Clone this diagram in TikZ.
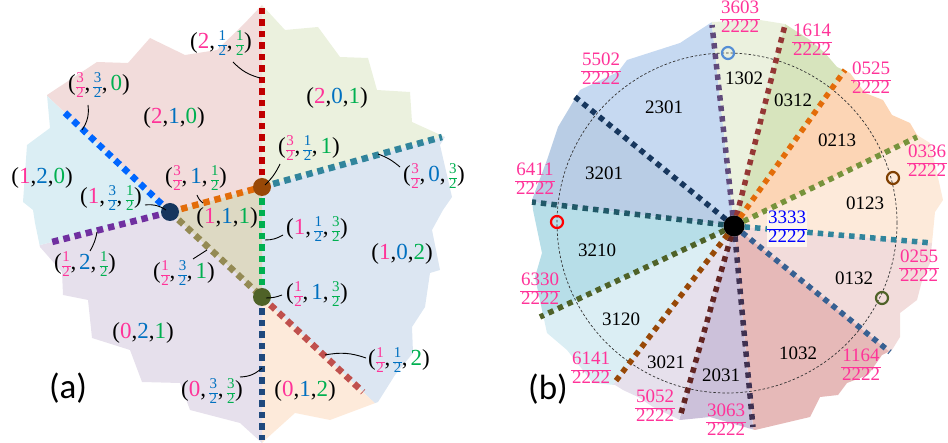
\documentclass[tikz,border=0pt]{standalone}
\usepackage{fontspec}
\setmainfont{Liberation Serif}
\setsansfont{Carlito}
\usetikzlibrary{calc}
\definecolor{pk}{HTML}{FF3399}
\definecolor{bu}{HTML}{0070C0}
\definecolor{gn}{HTML}{00B050}
% left line colours
\definecolor{lred}{HTML}{C00000}
\definecolor{lteal}{HTML}{31859C}
\definecolor{lorange}{HTML}{E36C09}
\definecolor{lblue}{HTML}{0066FF}
\definecolor{lpurple}{HTML}{7030A0}
\definecolor{lkhaki}{HTML}{948A54}
\definecolor{lgreen}{HTML}{00B050}
\definecolor{lnavy}{HTML}{1F497D}
\definecolor{lired}{HTML}{C0504D}
\definecolor{dotO}{HTML}{984807}
\definecolor{dotB}{HTML}{17375E}
\definecolor{dotG}{HTML}{4F6228}
% left fills
\definecolor{c210}{HTML}{F2DCDB}
\definecolor{c201}{HTML}{EBF1DE}
\definecolor{c102}{HTML}{DCE6F2}
\definecolor{c012}{HTML}{FDEADA}
\definecolor{c021}{HTML}{E6E0EC}
\definecolor{c120}{HTML}{DBEEF4}
\definecolor{c111}{HTML}{DDD9C3}
% right line colours
\definecolor{r1}{HTML}{604A7B}
\definecolor{r2}{HTML}{953735}
\definecolor{r3}{HTML}{E36C09}
\definecolor{r4}{HTML}{77933C}
\definecolor{r5}{HTML}{31859C}
\definecolor{r6}{HTML}{376092}
\definecolor{r7}{HTML}{3F3151}
\definecolor{r8}{HTML}{632523}
\definecolor{r9}{HTML}{984807}
\definecolor{r10}{HTML}{4F6228}
\definecolor{r11}{HTML}{215968}
\definecolor{r12}{HTML}{17375E}
% right fills
\definecolor{s2301}{HTML}{C6D9F1}
\definecolor{s1302}{HTML}{EBF1DE}
\definecolor{s0312}{HTML}{D7E4BD}
\definecolor{s0213}{HTML}{FCD5B5}
\definecolor{s0123}{HTML}{FDEADA}
\definecolor{s0132}{HTML}{F2DCDB}
\definecolor{s1032}{HTML}{E6B9B8}
\definecolor{s2031}{HTML}{CCC1DA}
\definecolor{s3021}{HTML}{E6E0EC}
\definecolor{s3120}{HTML}{DBEEF4}
\definecolor{s3210}{HTML}{B7DEE8}
\definecolor{s3201}{HTML}{B9CDE5}
\definecolor{ringblue}{HTML}{558ED5}
\definecolor{ringbrown}{HTML}{7F3F00}
\definecolor{labbg}{HTML}{FEF6EE}
\newcommand\pk[1]{\textcolor{pk}{#1}}
\newcommand\bu[1]{\textcolor{bu}{#1}}
\newcommand\gn[1]{\textcolor{gn}{#1}}
\newcommand\sfr[2]{{\fontsize{15}{15}\selectfont\renewcommand\arraystretch{0.88}\setlength\arrayrulewidth{0.6pt}\setlength\tabcolsep{0.6pt}\begin{tabular}{c}#1\\\hline #2\end{tabular}}}
\newcommand\hf[1]{\textcolor{#1}{\sfr{1}{2}}}
\newcommand\thf[1]{\textcolor{#1}{\sfr{3}{2}}}
\newcommand\cm{,\kern3pt}
\newcommand\frc[2]{{\renewcommand\arraystretch{0.8}\setlength\arrayrulewidth{0.9pt}\setlength\tabcolsep{1pt}\begin{tabular}{c}#1\\\hline #2\end{tabular}}}
\tikzset{
 lab/.style={font=\fontsize{23}{26}\selectfont, inner sep=0pt},
 dl/.style={line width=6.5pt, dash pattern=on 6.5pt off 5pt},
 dr/.style={line width=5.5pt, dash pattern=on 5.5pt off 5pt},
 ldr/.style={line width=0.9pt},
 sl/.style={font=\fontsize{19}{22}\selectfont, inner sep=0pt},
 fl/.style={font=\fontsize{19}{21}\selectfont, text=pk, inner sep=0pt},
 ring/.style={line width=2.2pt},
 big/.style={font=\sffamily\fontsize{35}{40}\selectfont, inner sep=0pt},
}
\begin{document}
\begin{tikzpicture}[x=1pt,y=-1pt]
\useasboundingbox (0,0) rectangle (948,443);
% ================= LEFT PANEL =================
\coordinate (O) at (262,187);
\coordinate (B) at (170,212);
\coordinate (G) at (262,297);
\coordinate (Rt) at (262,6);
\coordinate (Te) at (442,137);
\coordinate (Bl) at (62,110);
\coordinate (Pu) at (48,243);
\coordinate (Nv) at (262,440);
\coordinate (Ir) at (363,392);
\begin{scope}
\clip (262,5) -- (285,30) -- (318,27) -- (340,57) -- (368,58) -- (377,90) -- (410,92) -- (412,122) -- (445,137) -- (440,145) -- (452,197) -- (443,210) -- (432,230) -- (440,270) -- (430,273) -- (425,307) -- (412,327) -- (413,353) -- (395,375) -- (378,402) -- (330,420) -- (295,413) -- (265,440) -- (262,443) -- (240,423) -- (190,410) -- (180,383) -- (142,382) -- (130,350) -- (92,338) -- (88,300) -- (63,295) -- (62,272) -- (40,247) -- (35,223) -- (33,210) -- (23,202) -- (27,145) -- (50,128) -- (47,95) -- (97,62) -- (128,63) -- (150,38) -- (185,55) -- (217,50) -- (243,25) -- cycle;
\fill[c210] (B) -- (-154,-94) -- (-154,-200) -- (262,-200) -- (O) -- cycle;
\fill[c201] (O) -- (262,-200) -- (900,-200) -- (802,37) -- cycle;
\fill[c102] (O) -- (802,37) -- (900,700) -- (565,582) -- (G) -- cycle;
\fill[c012] (G) -- (565,582) -- (600,800) -- (262,800) -- cycle;
\fill[c021] (G) -- (262,800) -- (-200,800) -- (-200,306) -- (B) -- cycle;
\fill[c120] (B) -- (-200,306) -- (-200,-137) -- cycle;
\fill[c111] (O) -- (B) -- (G) -- cycle;
\end{scope}
\draw[dl,lred] (O) -- (Rt);
\draw[dl,lteal] (O) -- (Te);
\draw[dl,lorange] (B) -- (O);
\draw[dl,lblue] (B) -- (Bl);
\draw[dl,lpurple] (B) -- (Pu);
\draw[dl,lkhaki] (B) -- (G);
\draw[dl,lgreen] (O) -- (G);
\draw[dl,lnavy] (G) -- (Nv);
\draw[dl,lired] (G) -- (Ir);
\fill[dotO] (O) circle[radius=9pt];
\fill[dotB] (B) circle[radius=9pt];
\fill[dotG] (G) circle[radius=9pt];
% labels
\node[lab] (t1) at (221,45) {(\pk{2}\cm\hf{bu}\cm\hf{gn})};
\node[lab] (t2) at (99,87) {(\thf{pk}\cm\thf{bu}\cm\gn{0})};
\node[lab] (t3) at (174,118) {(\pk{2},\bu{1},\gn{0})};
\node[lab] (t4) at (337,98) {(\pk{2},\bu{0},\gn{1})};
\node[lab] (t5) at (309,150) {(\thf{pk}\cm\hf{bu}\cm\gn{1})};
\node[lab] (t6) at (434,178) {(\thf{pk}\cm\bu{0}\cm\thf{gn})};
\node[lab] (t7) at (42,178) {(\pk{1},\bu{2},\gn{0})};
\node[lab] (t8) at (196,180) {(\thf{pk}\cm\bu{1}\cm\hf{gn})};
\node[lab] (t9) at (111,200) {(\pk{1}\cm\thf{bu}\cm\hf{gn})};
\node[lab] (t10) at (227,218) {(\pk{1},\bu{1},\gn{1})};
\node[lab] (t11) at (317,231) {(\pk{1}\cm\hf{bu}\cm\thf{gn})};
\node[lab] (t12) at (85,266) {(\hf{pk}\cm\bu{2}\cm\hf{gn})};
\node[lab] (t13) at (184,275) {(\hf{pk}\cm\thf{bu}\cm\gn{1})};
\node[lab] (t14) at (317,296) {(\hf{pk}\cm\bu{1}\cm\thf{gn})};
\node[lab] (t15) at (402,254) {(\pk{1},\bu{0},\gn{2})};
\node[lab] (t16) at (143,333) {(\pk{0},\bu{2},\gn{1})};
\node[lab] (t17) at (305,391) {(\pk{0},\bu{1},\gn{2})};
\node[lab] (t18) at (399,362) {(\hf{pk}\cm\hf{bu}\cm\gn{2})};
\node[lab] (t19) at (212,393) {(\pk{0}\cm\thf{bu}\cm\thf{gn})};
\node[big] (pa) at (68,388) {(a)};
% leaders
\coordinate (a1) at (233,62);  \coordinate (b1) at (260,78);
\coordinate (a2) at (88,105);  \coordinate (b2) at (82,130);
\coordinate (a3) at (280,164); \coordinate (b3) at (265,185);
\coordinate (a4) at (400,167); \coordinate (b4) at (378,154);
\coordinate (a5) at (197,195); \coordinate (b5) at (203,203);
\coordinate (a6) at (145,205); \coordinate (b6) at (166,210);
\coordinate (a7) at (283,235); \coordinate (b7) at (265,240);
\coordinate (a8) at (97,232);  \coordinate (b8) at (90,251);
\coordinate (a9) at (207,250); \coordinate (b9) at (193,259);
\coordinate (a10) at (282,295); \coordinate (b10) at (266,298);
\coordinate (a11) at (366,358); \coordinate (b11) at (325,355);
\coordinate (a12) at (240,377); \coordinate (b12) at (262,368);
\draw[ldr] (a1) to[bend right=15] (b1);
\draw[ldr] (a2) to[bend left=20] (b2);
\draw[ldr] (a3) to[bend left=10] (b3);
\draw[ldr] (a4) to[bend right=10] (b4);
\draw[ldr] (a5) to[bend right=15] (b5);
\draw[ldr] (a6) to[bend left=20] (b6);
\draw[ldr] (a7) to[bend left=15] (b7);
\draw[ldr] (a8) to[bend left=10] (b8);
\draw[ldr] (a9) to (b9);
\draw[ldr] (a10) to[bend left=10] (b10);
\draw[ldr] (a11) to[bend right=15] (b11);
\draw[ldr] (a12) to[bend right=20] (b12);
% ================= RIGHT PANEL =================
\coordinate (C) at (734,226);
\coordinate (E1) at (712,25);
\coordinate (E2) at (785,25);
\coordinate (E3) at (845,70);
\coordinate (E4) at (917,137);
\coordinate (E5) at (932,243);
\coordinate (E6) at (890,352);
\coordinate (E7) at (753,427);
\coordinate (E8) at (680,417);
\coordinate (E9) at (615,382);
\coordinate (E10) at (540,317);
\coordinate (E11) at (532,202);
\coordinate (E12) at (575,97);
\begin{scope}
\clip (712,22) -- (760,20) -- (785,24) -- (810,40) -- (825,53) -- (837,67) -- (850,73) -- (865,93) -- (883,100) -- (892,115) -- (910,123) -- (917,135) -- (930,143) -- (937,173) -- (943,200) -- (935,212) -- (932,243) -- (930,263) -- (923,277) -- (917,300) -- (900,313) -- (900,337) -- (892,350) -- (882,355) -- (868,375) -- (847,383) -- (838,395) -- (820,397) -- (810,417) -- (755,430) -- (710,417) -- (680,420) -- (653,407) -- (638,397) -- (623,390) -- (615,385) -- (593,383) -- (567,350) -- (547,333) -- (542,310) -- (535,277) -- (542,253) -- (533,210) -- (532,200) -- (547,160) -- (558,127) -- (570,107) -- (580,90) -- (618,72) -- (627,60) -- (680,43) -- cycle;
\foreach \ea/\eb/\cl in {E12/E1/s2301, E1/E2/s1302, E2/E3/s0312, E3/E4/s0213, E4/E5/s0123, E5/E6/s0132, E6/E7/s1032, E7/E8/s2031, E8/E9/s3021, E9/E10/s3120, E10/E11/s3210, E11/E12/s3201}
  \fill[fill=\cl] (C) -- ($(C)!4!(\ea)$) -- ($(C)!4!(\eb)$) -- cycle;
\end{scope}
\draw[line width=0.7pt, dash pattern=on 2.5pt off 2pt, black!80] (727,223) circle[radius=170pt];
\foreach \e/\cl in {E1/r1, E2/r2, E3/r3, E4/r4, E5/r5, E6/r6, E7/r7, E8/r8, E9/r9, E10/r10, E11/r11, E12/r12}
  \draw[dr, draw=\cl] (C) -- (\e);
\fill[black] (C) circle[radius=10.5pt];
\draw[ring, ringblue] (728,53) circle[radius=6pt];
\draw[ring, red] (557,222) circle[radius=6pt];
\draw[ring, ringbrown] (893,178) circle[radius=6pt];
\draw[ring, dotG] (882,298) circle[radius=6pt];
% sector labels
\node[sl] (n2301) at (664,107) {2301};
\node[sl] (n1302) at (744,78) {1302};
\node[sl] (n0312) at (793,100) {0312};
\node[sl] (n0213) at (837,140) {0213};
\node[sl] (n0123) at (865,203) {0123};
\node[sl] (n0132) at (854,278) {0132};
\node[sl] (n1032) at (798,353) {1032};
\node[sl] (n2031) at (721,375) {2031};
\node[sl] (n3021) at (666,362) {3021};
\node[sl] (n3120) at (621,319) {3120};
\node[sl] (n3210) at (597,250) {3210};
\node[sl] (n3201) at (604,173) {3201};
% fraction labels
\node[fl] (f1) at (740,19) {\frc{3603}{2222}};
\node[fl] (f2) at (812,42) {\frc{1614}{2222}};
\node[fl] (f3) at (871,80) {\frc{0525}{2222}};
\node[fl] (f4) at (927,163) {\frc{0336}{2222}};
\node[fl] (f5) at (919,268) {\frc{0255}{2222}};
\node[fl] (f6) at (861,367) {\frc{1164}{2222}};
\node[fl] (f7) at (726,422) {\frc{3063}{2222}};
\node[fl] (f8) at (655,408) {\frc{5052}{2222}};
\node[fl] (f9) at (591,370) {\frc{6141}{2222}};
\node[fl] (f10) at (540,291) {\frc{6330}{2222}};
\node[fl] (f11) at (535,181) {\frc{6411}{2222}};
\node[fl] (f12) at (601,71) {\frc{5502}{2222}};
\node[fl, text=blue, fill=labbg, inner sep=0pt] (fc) at (787,229) {\frc{3333}{2222}};
\node[big] (pb) at (548,389) {(b)};
\end{tikzpicture}
\end{document}
